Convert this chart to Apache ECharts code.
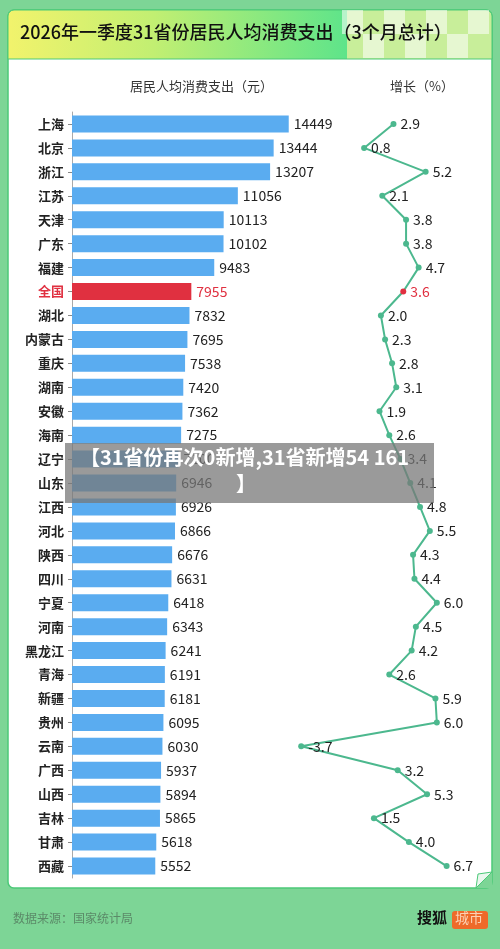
<!DOCTYPE html>
<html><head><meta charset="utf-8">
<script src="https://cdn.jsdelivr.net/npm/echarts@6/dist/echarts.min.js"></script>
<style>html,body{margin:0;padding:0;background:#7dd596}#c{width:500px;height:949px}</style>
</head><body><div id="c"></div>
<script>
const provinces = ['上海','北京','浙江','江苏','天津','广东','福建','全国','湖北','内蒙古','重庆','湖南','安徽','海南','辽宁','山东','江西','河北','陕西','四川','宁夏','河南','黑龙江','青海','新疆','贵州','云南','广西','山西','吉林','甘肃','西藏'];
const spending = [14449,13444,13207,11056,10113,10102,9483,7955,7832,7695,7538,7420,7362,7275,7100,6946,6926,6866,6676,6631,6418,6343,6241,6191,6181,6095,6030,5937,5894,5865,5618,5552];
const growth = [2.9,0.8,5.2,2.1,3.8,3.8,4.7,3.6,2.0,2.3,2.8,3.1,1.9,2.6,3.4,4.1,4.8,5.5,4.3,4.4,6.0,4.5,4.2,2.6,5.9,6.0,-3.7,3.2,5.3,1.5,4.0,6.7];
const NAT = '全国';
const FONT = '"Noto Sans CJK SC","Noto Sans",sans-serif';
const chart = echarts.init(document.getElementById('c'));
const checker = [];
for (let i=0;i<7;i++) for (let j=0;j<2;j++) if ((i+j)%2===0) checker.push({type:'rect',shape:{x:342+i*21,y:10+j*24,width:21,height:24},style:{fill:'rgba(255,255,255,0.55)'}});
chart.setOption({
  animation:false,
  textStyle:{fontFamily:FONT},
  graphic:[
    {type:'rect',z:-10,shape:{x:8,y:10,width:484,height:878,r:6},style:{fill:'#fff',stroke:'#4cc978',lineWidth:1.5}},
    {type:'rect',z:-9,shape:{x:8,y:10,width:484,height:49,r:[6,6,0,0]},style:{fill:new echarts.graphic.LinearGradient(0,0,1,0,[{offset:0,color:'#f2f36c'},{offset:0.3,color:'#c2ef72'},{offset:0.7,color:'#5ee48a'},{offset:0.7,color:'#c8ee9a'},{offset:1,color:'#c8ee9a'}]),stroke:'#4cc978',lineWidth:1}},
    ...checker.map(c=>Object.assign(c,{z:-8})),
    {type:'text',left:20,top:23,style:{text:'2026年一季度31省份居民人均消费支出（3个月总计）',font:'500 18px '+FONT,fill:'#111'}},
    {type:'text',left:130,top:80,style:{text:'居民人均消费支出（元）',font:'13px '+FONT,fill:'#333'}},
    {type:'text',left:390,top:80,style:{text:'增长（%）',font:'13px '+FONT,fill:'#333'}},
    {type:'text',left:13,top:912,style:{text:'数据来源：国家统计局',font:'12px '+FONT,fill:'#5b8a68'}},
    {type:'text',left:417,top:910,style:{text:'搜狐',font:'bold 15px '+FONT,fill:'#111'}},
    {type:'rect',shape:{x:452,y:911,width:36,height:18,r:3},style:{fill:'#ee6a2a'}},
    {type:'text',left:455,top:911,style:{text:'城市',font:'14px '+FONT,fill:'#fbd2b5'}},
    {type:'polygon',shape:{points:[[476,888],[492,872],[492,888]]},style:{fill:'#7dd596'}},
    {type:'polygon',shape:{points:[[476,888],[492,872],[478,874]]},style:{fill:'#eaf7ee',stroke:'#4cc978'}},
    {type:'rect',z:100,shape:{x:65,y:443,width:369,height:60},style:{fill:'rgba(120,120,120,0.75)'}},
    {type:'text',z:101,left:80,top:447,style:{text:'【31省份再次0新增,31省新增54 161',font:'bold 20px '+FONT,fill:'#fff'}},
    {type:'text',z:101,left:236,top:473,style:{text:'】',font:'bold 20px '+FONT,fill:'#fff'}}
  ],
  grid:[
    {left:72,top:112,width:300,height:766},
    {left:297,top:112,width:165,height:766}
  ],
  xAxis:[
    {gridIndex:0,type:'value',min:0,max:20000,show:false},
    {gridIndex:1,type:'value',min:-4,max:7.8,show:false}
  ],
  yAxis:[
    {gridIndex:0,type:'category',data:provinces,inverse:true,
      axisLine:{lineStyle:{color:'#aaa'}},axisTick:{show:true,length:4,alignWithLabel:true,lineStyle:{color:'#888'}},
      axisLabel:{fontSize:13,fontWeight:'bold',color:function(v){return v===NAT?'#e03040':'#222';},margin:8}},
    {gridIndex:1,type:'category',data:provinces,inverse:true,show:false,boundaryGap:true}
  ],
  series:[
    {type:'bar',xAxisIndex:0,yAxisIndex:0,barWidth:17,
      data:spending.map((v,i)=>({value:v,itemStyle:{color:provinces[i]===NAT?'#e03040':'#5aacf0'},
        label:{color:provinces[i]===NAT?'#e03040':'#222'}})),
      label:{show:true,position:'right',fontSize:14,distance:5}},
    {type:'line',xAxisIndex:1,yAxisIndex:1,symbol:'circle',symbolSize:6,
      data:growth.map((v,i)=>({value:[v,provinces[i]],itemStyle:{color:provinces[i]===NAT?'#e03040':'#4cb88e'},
        label:{color:provinces[i]===NAT?'#e03040':'#222'}})),
      lineStyle:{color:'#4cb88e',width:2},itemStyle:{color:'#4cb88e'},
      label:{show:true,position:'right',fontSize:14,distance:4,formatter:p=>p.value[0].toFixed(1)}}
  ]
});
</script></body></html>
